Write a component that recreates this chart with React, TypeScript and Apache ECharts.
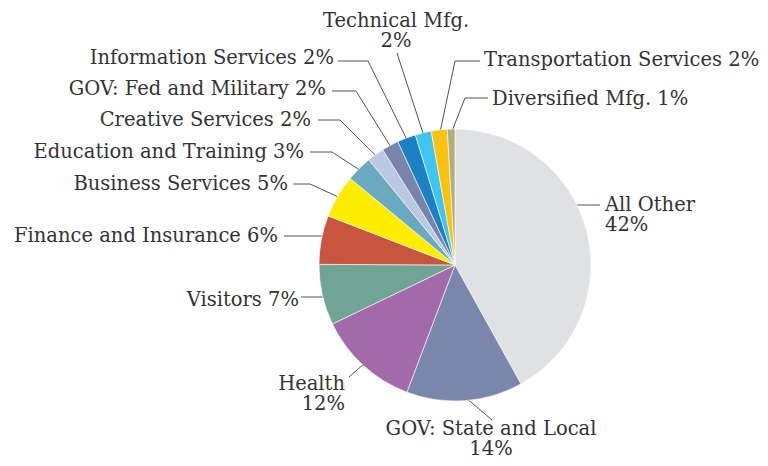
import React, { useEffect, useRef } from "react";
import * as echarts from "echarts";

const names = [
  "All Other",
  "GOV: State and Local",
  "Health",
  "Visitors",
  "Finance and Insurance",
  "Business Services",
  "Education and Training",
  "Creative Services",
  "GOV: Fed and Military",
  "Information Services",
  "Technical Mfg.",
  "Transportation Services",
  "Diversified Mfg.",
];
const values = [41.9, 13.8, 12.1, 7.2, 5.8, 5.1, 3.1, 2.0, 2.0, 2.2, 1.9, 1.9, 0.9];
const colors = [
  "#e0e1e3", "#7a86ab", "#a36aaa", "#70a596", "#c8553d", "#ffed00",
  "#6aa9c0", "#b9c9e3", "#7a84aa", "#1b80c4", "#40c4f0", "#fdc20f", "#b0b07f",
];
const twoLine = new Set(["All Other", "GOV: State and Local", "Health", "Technical Mfg."]);

// label layout: text x, y, align; leader end (lx, ly); elbow x (null = none); flat = horizontal into pie
const labelSpots: any[] = [
  { x: 605, y: 214, align: "left", lx: 600, ly: 205, ex: null, flat: true },
  { x: 491, y: 438, align: "center", lx: 492, ly: 420, ex: null, flat: false },
  { x: 345, y: 393, align: "right", lx: 349, ly: 377, ex: null, flat: false },
  { x: 299, y: 299, align: "right", lx: 301, ly: 297, ex: null, flat: true },
  { x: 278, y: 235, align: "right", lx: 284, ly: 236, ex: null, flat: true },
  { x: 288, y: 183, align: "right", lx: 293, ly: 184, ex: 310, flat: false },
  { x: 304, y: 151, align: "right", lx: 310, ly: 152, ex: 332, flat: false },
  { x: 311, y: 119, align: "right", lx: 318, ly: 120, ex: 340, flat: false },
  { x: 326, y: 88, align: "right", lx: 332, ly: 91, ex: 356, flat: false },
  { x: 334, y: 57, align: "right", lx: 338, ly: 61, ex: 368, flat: false },
  { x: 396, y: 30, align: "center", lx: 397, ly: 53, ex: null, flat: false },
  { x: 484, y: 59, align: "left", lx: 480, ly: 61, ex: 455, flat: false },
  { x: 492, y: 98, align: "left", lx: 488, ly: 98, ex: 465, flat: false },
];

const CX = 455;
const CY = 265;
const R = 136;

export default function App() {
  const ref = useRef<HTMLDivElement>(null);
  useEffect(() => {
    document.body.style.margin = "0";
    const chart = echarts.init(ref.current!, null, { renderer: "svg" });
    const total = values.reduce((a, b) => a + b, 0);
    const mids: number[] = [];
    let acc = 0;
    values.forEach((v) => {
      mids.push(((acc + v / 2) / total) * 2 * Math.PI);
      acc += v;
    });
    chart.setOption({
      animation: false,
      backgroundColor: "#ffffff",
      series: [
        {
          type: "pie",
          center: [CX, CY],
          radius: R,
          startAngle: 90,
          clockwise: true,
          percentPrecision: 0,
          avoidLabelOverlap: false,
          data: names.map((n, i) => ({ name: n, value: values[i], itemStyle: { color: colors[i] } })),
          itemStyle: { borderColor: "#ffffff", borderWidth: 0.6 },
          label: {
            show: true,
            color: "#333333",
            fontFamily: "DejaVu Serif",
            fontSize: 19.5,
            lineHeight: 20,
            formatter: (p: any) => `${p.name}${twoLine.has(p.name) ? "\n" : " "}${p.percent}%`,
          },
          labelLine: { show: true, lineStyle: { color: "#555555", width: 1 } },
          labelLayout: (params: any) => {
            const i = params.dataIndex;
            const s = labelSpots[i];
            const r = R - 4;
            let p0: number[];
            if (s.flat) {
              const dy = s.ly - CY;
              const dx = Math.sqrt(r * r - dy * dy);
              p0 = [s.align === "left" ? CX + dx : CX - dx, s.ly];
            } else {
              const a = mids[i];
              p0 = [CX + Math.sin(a) * r, CY - Math.cos(a) * r];
            }
            const end = [s.lx, s.ly];
            const mid = s.ex == null ? [(p0[0] + end[0]) / 2, (p0[1] + end[1]) / 2] : [s.ex, s.ly];
            return {
              x: s.x,
              y: s.y,
              align: s.align,
              verticalAlign: "middle",
              labelLinePoints: [p0, mid, end],
            };
          },
        },
      ],
    });
    return () => chart.dispose();
  }, []);
  return <div ref={ref} style={{ width: 768, height: 466 }} />;
}
